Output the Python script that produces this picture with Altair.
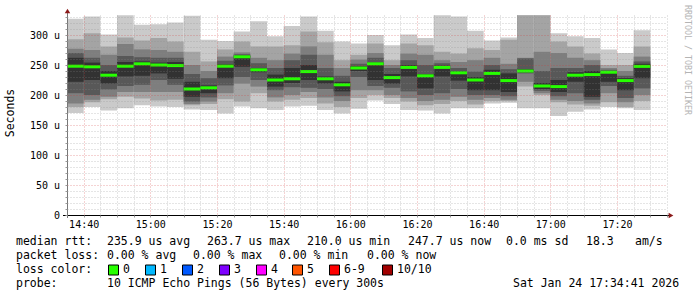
import altair as alt
import pandas as pd

# ---- data ----
times = ["14:35", "14:40", "14:45", "14:50", "14:55", "15:00", "15:05", "15:10", "15:15", "15:20",
         "15:25", "15:30", "15:35", "15:40", "15:45", "15:50", "15:55", "16:00", "16:05", "16:10",
         "16:15", "16:20", "16:25", "16:30", "16:35", "16:40", "16:45", "16:50", "16:55", "17:00",
         "17:05", "17:10", "17:15", "17:20", "17:25"]  # start of each 5-minute step

# sorted ping RTTs (microseconds), ping1 = fastest ... ping10 = slowest
ping1 = [170, 180, 174, 178, 183, 181, 180, 176, 175, 169, 181, 178, 175, 181, 182, 175, 169, 177, 191, 185,
         175, 174, 169, 178, 178, 186, 187, 178, 178, 165, 172, 176, 180, 178, 175]
ping2 = [180, 188, 193, 197, 194, 191, 192, 183, 185, 193, 189, 203, 189, 192, 195, 186, 180, 195, 200, 195,
         189, 183, 185, 190, 184, 190, 190, 214, 200, 188, 184, 182, 188, 180, 190]
ping3 = [186, 192, 197, 205, 205, 205, 205, 185, 189, 203, 219, 214, 196, 200, 205, 196, 190, 208, 208, 200,
         195, 190, 192, 197, 192, 195, 192, 222, 203, 192, 190, 186, 203, 188, 200]
ping4 = [203, 200, 209, 215, 217, 225, 217, 189, 196, 216, 230, 225, 208, 213, 212, 210, 198, 230, 215, 212,
         206, 200, 203, 210, 200, 200, 198, 236, 207, 198, 203, 192, 215, 195, 211]
ping5 = [222, 225, 219, 231, 232, 236, 227, 197, 203, 228, 247, 238, 214, 220, 225, 219, 206, 240, 225, 219,
         231, 211, 231, 224, 208, 208, 205, 238, 210, 205, 222, 197, 222, 208, 228]
ping6 = [262, 254, 240, 255, 256, 254, 255, 222, 216, 251, 266, 245, 234, 245, 250, 231, 222, 248, 254, 235,
         250, 235, 249, 240, 230, 242, 236, 243, 220, 225, 238, 240, 240, 228, 252]
ping7 = [270, 262, 250, 265, 263, 262, 262, 235, 228, 257, 268, 253, 245, 258, 267, 245, 232, 252, 262, 245,
         258, 250, 253, 245, 239, 250, 243, 261, 240, 245, 245, 250, 242, 232, 256]
ping8 = [277, 275, 267, 285, 276, 275, 272, 250, 240, 264, 271, 262, 258, 269, 281, 267, 245, 259, 270, 250,
         269, 267, 258, 255, 258, 262, 252, 262, 272, 270, 262, 258, 245, 240, 264]
ping9 = [293, 303, 281, 296, 291, 295, 289, 272, 256, 276, 289, 281, 281, 283, 306, 288, 258, 267, 286, 258,
         286, 283, 272, 269, 278, 275, 292, 333, 333, 289, 281, 269, 250, 250, 281]
ping10 = [327, 331, 301, 333, 317, 318, 321, 332, 292, 290, 306, 323, 298, 315, 331, 307, 289, 286, 300, 283,
          301, 295, 333, 331, 307, 291, 296, 333, 333, 303, 298, 295, 276, 270, 308]
median = [248, 247, 233, 248, 252, 250, 249, 210.0, 212, 248, 263.7, 242, 225, 227, 239, 227, 217, 245, 252, 229,
          246, 232, 246, 237, 225, 236, 224, 240, 215, 214, 233, 234, 238, 224, 247.7]

smoke_colors = ["#cacaca", "#a4a4a4", "#7e7e7e", "#585858", "#323232"]
loss_labels = ["0", "1", "2", "3", "4", "5", "6-9", "10/10"]
loss_colors = ["#26ff00", "#00b8ff", "#0059ff", "#7e00ff", "#ff00ff", "#ff5500", "#ff0000", "#a10000"]

# ---- build table ----
start = [int(t[:2]) * 60 + int(t[3:]) for t in times]
pings = [ping1, ping2, ping3, ping4, ping5, ping6, ping7, ping8, ping9, ping10]
df = pd.DataFrame({"start": start, "end": [s + 5 for s in start], "median": median})
for i, p in enumerate(pings):
    df[f"p{i + 1}"] = p

MONO = "DejaVu Sans Mono"
PX, PY = 67, 15  # plot origin inside the page
W, H = 600, 200

xscale = alt.Scale(domain=[875, 1055], nice=False, zero=False)
yscale = alt.Scale(domain=[0, 1000 / 3], nice=False, zero=True)

x_axis = alt.Axis(
    values=list(range(880, 1060, 5)),
    labelExpr="datum.value % 20 == 0 ? (floor(datum.value/60) + ':' + (datum.value % 60 < 10 ? '0' : '') + (datum.value % 60)) : ''",
    grid=True,
    gridColor={"condition": {"test": "datum.value % 20 == 0", "value": "#d23c3c"}, "value": "#8c8c8c"},
    gridOpacity=0.45,
    gridDash=[1, 2],
    domain=False,
    ticks=True,
    tickSize=2,
    tickColor="#999999",
    labelFont=MONO,
    labelFontSize=10,
    labelColor="#000000",
    labelBaseline="middle",
    labelPadding=7.7,
    labelFlush=False,
    labelOverlap=False,
    title=None,
    zindex=1,
)
nb = "\u00a0"
y_axis = alt.Axis(
    values=list(range(0, 340, 10)),
    labelExpr=f"datum.value % 50 == 0 ? (datum.value == 0 ? '0{nb}{nb}' : datum.value + ' u') : ''",
    grid=True,
    gridColor={"condition": {"test": "datum.value % 50 == 0", "value": "#d23c3c"}, "value": "#8c8c8c"},
    gridOpacity={"condition": {"test": "datum.value == 0", "value": 0}, "value": 0.45},
    gridDash=[1, 2],
    domain=False,
    ticks=True,
    tickSize=2,
    tickColor="#999999",
    labelFont=MONO,
    labelFontSize=10,
    labelColor="#000000",
    labelBaseline="middle",
    labelPadding=5.5,
    labelFlush=False,
    labelOverlap=False,
    title=None,
    zindex=1,
)

base = alt.Chart(df)
layers = []
for i in range(5):
    lo, hi = f"p{i + 1}", f"p{10 - i}"
    enc = dict(
        x=alt.X("start:Q", scale=xscale, axis=x_axis),
        x2="end:Q",
        y=alt.Y(f"{lo}:Q", scale=yscale, axis=y_axis),
        y2=f"{hi}:Q",
    )
    layers.append(base.mark_rect(color=smoke_colors[i], clip=True, strokeWidth=0).encode(**enc))

layers.append(
    base.mark_rule(color=loss_colors[0], strokeWidth=3, strokeCap="butt").encode(
        x=alt.X("start:Q", scale=xscale, axis=x_axis),
        x2="end:Q",
        y=alt.Y("median:Q", scale=yscale, axis=y_axis),
    )
)

one = pd.DataFrame({"k": [0]})

# axis lines and arrows (decoration)
layers.append(alt.Chart(one).mark_rule(color="#000000", strokeWidth=1).encode(
    x=alt.value(-4), x2=alt.value(602), y=alt.value(H + 0.5)))
layers.append(alt.Chart(one).mark_rule(color="#777777", strokeWidth=1).encode(
    x=alt.value(0.5), y=alt.value(H + 3), y2=alt.value(-4)))
layers.append(alt.Chart(one).mark_point(shape="triangle-up", filled=True, size=30, color="#8b1a1a", opacity=1).encode(
    x=alt.value(0.5), y=alt.value(-4)))
layers.append(alt.Chart(one).mark_point(shape="triangle-right", filled=True, size=30, color="#8b1a1a", opacity=1).encode(
    x=alt.value(604), y=alt.value(H + 0.5)))


def txt(s, ax, ay, size=11.5, color="#000000", angle=0, align="left"):
    return alt.Chart(pd.DataFrame({"t": [s]})).mark_text(
        align=align, baseline="middle", font=MONO, fontSize=size, color=color, angle=angle
    ).encode(x=alt.value(ax - PX), y=alt.value(ay - PY), text="t:N")


layers.append(txt("Seconds", 11, 113, size=11.5, angle=270, align="center"))
layers.append(txt("RRDTOOL / TOBI OETIKER", 687, 60, size=8.3, color="#b4b4b4", angle=90, align="center"))

# legend lines
L1, L2, L3, L4 = 241.5, 255.5, 269.5, 283.5
for s, x in [("median rtt:", 16), ("235.9 us avg", 107), ("263.7 us max", 207), ("210.0 us min", 307),
             ("247.7 us now", 408), ("0.0 ms sd", 506), ("18.3", 586), ("am/s", 635)]:
    layers.append(txt(s, x, L1))
for s, x in [("packet loss:", 16), ("0.00 % avg", 107), ("0.00 % max", 193), ("0.00 % min", 279),
             ("0.00 % now", 367)]:
    layers.append(txt(s, x, L2))
layers.append(txt("loss color:", 16, L3))
sq_x = [108, 145, 182, 219, 256, 292, 329, 382]
for lab, col, x in zip(loss_labels, loss_colors, sq_x):
    layers.append(alt.Chart(one).mark_rect(fill=col, stroke="#000000", strokeWidth=1).encode(
        x=alt.value(x - PX + 0.5), x2=alt.value(x - PX + 10.5),
        y=alt.value(L3 - PY - 4.5), y2=alt.value(L3 - PY + 5.5)))
    layers.append(txt(lab, x + 15, L3))
layers.append(txt("probe:", 16, L4))
layers.append(txt("10 ICMP Echo Pings (56 Bytes) every 300s", 107, L4))
layers.append(txt("Sat Jan 24 17:34:41 2026", 513, L4))

chart = alt.layer(*layers).properties(
    width=W, height=H,
    autosize=alt.AutoSizeParams(type="none"),
    padding={"left": PX, "top": PY, "right": 697 - PX - W, "bottom": 297 - PY - H},
    background="#ffffff",
).configure_view(strokeWidth=0)

chart.save("out.html", embed_options={"renderer": "svg", "actions": False})
